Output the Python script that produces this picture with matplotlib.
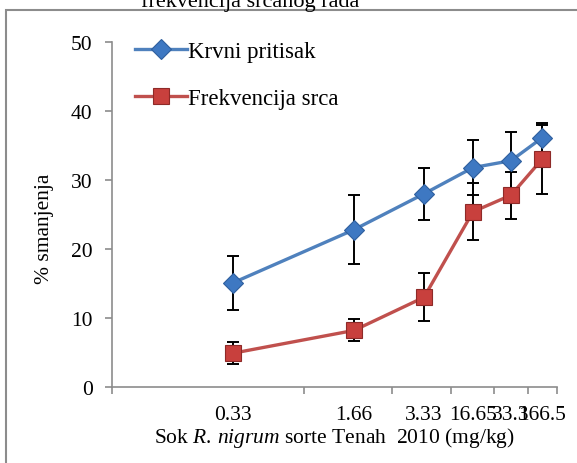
import matplotlib
matplotlib.use("Agg")
import matplotlib.pyplot as plt
from matplotlib.patches import Rectangle
from matplotlib.ticker import FixedLocator, NullFormatter

# ---- data ----
doses = ["0.33", "1.66", "3.33", "16.65", "33.3", "166.5"]
krvni = [15.1, 22.8, 28.0, 31.8, 32.8, 36.1]
krvni_err = [3.9, 5.0, 3.8, 4.0, 4.2, 2.1]
frek = [4.9, 8.2, 13.0, 25.4, 27.8, 33.0]
frek_err = [1.6, 1.6, 3.5, 4.1, 3.4, 5.0]

# category layout (axis units)
x_pos = [121, 242, 312, 361, 399, 430]
x_bounds = [0, 192, 280, 339, 382, 416, 445]

plt.rcParams["font.family"] = ["Liberation Serif", "DejaVu Serif"]
plt.rcParams["mathtext.fontset"] = "custom"
plt.rcParams["mathtext.rm"] = "Liberation Serif"
plt.rcParams["mathtext.it"] = "Liberation Serif:italic"

W, H = 577, 464
fig = plt.figure(figsize=(W / 100, H / 100), dpi=100)
ax = fig.add_axes([112 / W, 1 - 388 / H, 445 / W, 345 / H])

blue = "#4F81BD"
red = "#C0504D"

ax.errorbar(x_pos, krvni, yerr=krvni_err, fmt="none", ecolor="black",
            elinewidth=1.4, capsize=4, capthick=1.4, zorder=2)
ax.errorbar(x_pos, frek, yerr=frek_err, fmt="none", ecolor="black",
            elinewidth=1.4, capsize=4, capthick=1.4, zorder=2)
ax.plot(x_pos, krvni, color=blue, lw=2.4, marker="D", markersize=10,
        markerfacecolor="#3E78C2", markeredgecolor="#2F5F9E", markeredgewidth=0.8,
        label="Krvni pritisak", zorder=3)
ax.plot(x_pos, frek, color=red, lw=2.4, marker="s", markersize=12,
        markerfacecolor="#C8403D", markeredgecolor="#8E2A28", markeredgewidth=0.8,
        label="Frekvencija srca", zorder=3)

ax.set_xlim(x_bounds[0], x_bounds[-1])
ax.set_ylim(0, 50)
ax.set_yticks(range(0, 51, 10))
ax.set_xticks(x_pos)
ax.set_xticklabels(doses)
ax.xaxis.set_minor_locator(FixedLocator(x_bounds))
ax.xaxis.set_minor_formatter(NullFormatter())

for s in ["top", "right"]:
    ax.spines[s].set_visible(False)
for s in ["left", "bottom"]:
    ax.spines[s].set_color("#8c8c8c")
    ax.spines[s].set_linewidth(1.2)

ax.tick_params(axis="y", direction="out", length=5, width=1.2, color="#8c8c8c",
               labelsize=15.5, pad=9)
ax.tick_params(axis="x", which="major", length=0, labelsize=15.5, pad=13)
ax.tick_params(axis="x", which="minor", direction="out", length=5, width=1.2,
               color="#8c8c8c")

ax.set_ylabel("% smanjenja", fontsize=15.5)
ax.yaxis.set_label_coords(-0.13, 0.46)
ax.set_xlabel(r"Sok $\mathit{R.\/nigrum}$ sorte Tenah  2010 (mg/kg)",
              fontsize=15.5, labelpad=1)

leg = ax.legend(loc="upper left", bbox_to_anchor=(0.03, 1.03), frameon=False,
                fontsize=16.5, handlelength=2.3, handletextpad=0.05,
                labelspacing=1.15, borderaxespad=0.0)

fig.text(250 / W, 1 - 7 / H, "frekvencija srčanog rada", ha="center",
         va="baseline", fontsize=16)

fig.patches.append(Rectangle((6 / W, -0.1), 1.2, 1 - 11 / H + 0.1,
                             transform=fig.transFigure, fill=False,
                             edgecolor="#8c8c8c", linewidth=1.5))

fig.savefig("out.png", dpi=100)
